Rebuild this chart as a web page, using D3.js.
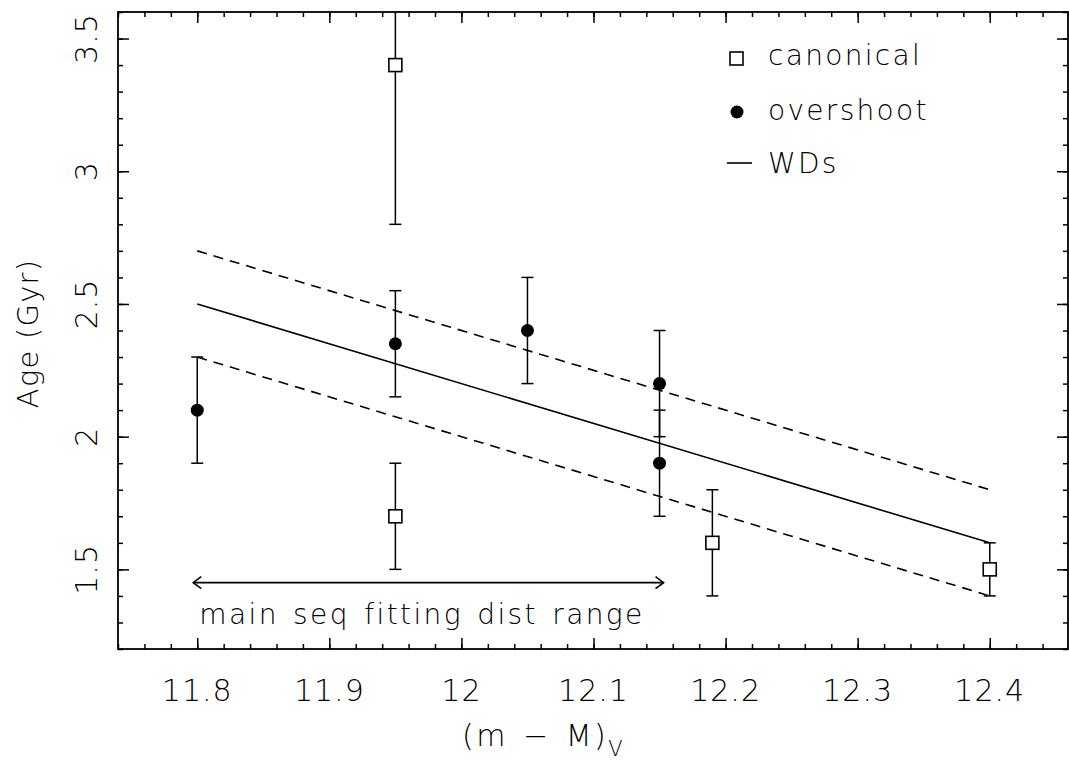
<!DOCTYPE html>
<html>
<head>
<meta charset="utf-8">
<script src="https://cdn.jsdelivr.net/npm/d3@7"></script>
<style>
  body { margin: 0; background: #fff; }
  text { font-family: "DejaVu Sans", sans-serif; font-weight: 200; fill: #000; }
</style>
</head>
<body>
<div id="container"></div>
<script>
let w = 1069;
let h = 762;

// canonical models (open squares)
let canonX = [11.95, 11.95, 12.19, 12.4];
let canonY = [3.4, 1.7, 1.6, 1.5];
let canonErr = [0.6, 0.2, 0.2, 0.1];

// overshoot models (filled circles)
let overX = [11.8, 11.95, 12.05, 12.15, 12.15];
let overY = [2.1, 2.35, 2.4, 2.2, 1.9];
let overErr = [0.2, 0.2, 0.2, 0.2, 0.2];

// white dwarf age relation and its band
let wdX = [11.8, 12.4];
let wdY = [2.5, 1.6];
let wdBand = 0.2;

// distance range arrow
let rangeX = [11.8, 12.15];
let rangeY = 1.45;

let xMajor = [11.8, 11.9, 12, 12.1, 12.2, 12.3, 12.4];
let yMajor = [1.5, 2, 2.5, 3, 3.5];

let xMinor = d3.range(0, 37).map(i => +(11.74 + i * 0.02).toFixed(2));
let yMinor = d3.range(0, 25).map(i => +(1.2 + i * 0.1).toFixed(1));

let pLeft = 118, pRight = 1068, pTop = 12, pBottom = 649;

let x = d3.scaleLinear().domain([11.74, 12.46]).range([pLeft, pRight + 1]);
let y = d3.scaleLinear().domain([1.2, 3.6]).range([pBottom, pTop]);

let viz = d3.select("#container")
  .append("svg")
    .attr("width", w)
    .attr("height", h)
    .style("background-color", "#fff");

viz.append("defs").append("clipPath").attr("id", "plotclip")
  .append("rect")
    .attr("x", pLeft).attr("y", pTop)
    .attr("width", pRight - pLeft).attr("height", pBottom - pTop);

// axes: major and minor ticks pointing inward on all four sides
function ticks(axis, pos, vals, size) {
  let g = viz.append("g")
    .attr("transform", pos)
    .call(axis.tickValues(vals).tickSize(-size).tickSizeOuter(0).tickFormat(""));
  g.select(".domain").remove();
  g.selectAll("line").attr("stroke", "#000").attr("stroke-width", 1.5);
}
ticks(d3.axisBottom(x), `translate(0,${pBottom})`, xMajor, 11);
ticks(d3.axisBottom(x), `translate(0,${pBottom})`, xMinor, 5);
ticks(d3.axisTop(x), `translate(0,${pTop})`, xMajor, 11);
ticks(d3.axisTop(x), `translate(0,${pTop})`, xMinor, 5);
ticks(d3.axisLeft(y), `translate(${pLeft},0)`, yMajor, 11);
ticks(d3.axisLeft(y), `translate(${pLeft},0)`, yMinor, 5);
ticks(d3.axisRight(y), `translate(${pRight},0)`, yMajor, 11);
ticks(d3.axisRight(y), `translate(${pRight},0)`, yMinor, 5);

viz.append("rect")
  .attr("x", pLeft).attr("y", pTop)
  .attr("width", pRight - pLeft).attr("height", pBottom - pTop)
  .attr("fill", "none").attr("stroke", "#000").attr("stroke-width", 1.8);

// tick labels
viz.selectAll(".xlab").data(xMajor).enter()
  .append("text")
    .attr("class", "xlab")
    .attr("x", d => x(d))
    .attr("y", 701)
    .attr("text-anchor", "middle")
    .style("font-size", "30px")
    .style("letter-spacing", "1px")
    .text(d => d3.format("")(d));

viz.selectAll(".ylab").data(yMajor).enter()
  .append("text")
    .attr("class", "ylab")
    .attr("transform", d => `translate(97,${y(d)}) rotate(-90)`)
    .attr("text-anchor", "middle")
    .style("font-size", "30px")
    .style("letter-spacing", "1px")
    .text(d => d3.format("")(d));

// axis titles
viz.append("text")
  .attr("transform", `translate(38,${(pTop + pBottom) / 2 + 3}) rotate(-90)`)
  .attr("text-anchor", "middle")
  .style("font-size", "29px")
  .style("letter-spacing", "1.2px")
  .text("Age (Gyr)");

let xt = viz.append("text")
  .attr("x", 462)
  .attr("y", 746)
  .style("font-size", "30px")
  .style("letter-spacing", "2.5px")
  .style("word-spacing", "3px");
xt.append("tspan").text("(m \u2212 M)");
xt.append("tspan").attr("dx", 0).attr("dy", 10).style("font-size", "21px").style("letter-spacing", "0px").text("V");

let plot = viz.append("g").attr("clip-path", "url(#plotclip)");

// WD relation and dashed band
let line = d3.line().x(d => x(d[0])).y(d => y(d[1]));
let wdPts = wdX.map((d, i) => [d, wdY[i]]);

plot.append("path")
  .attr("d", line(wdPts))
  .attr("fill", "none").attr("stroke", "#000").attr("stroke-width", 1.6);

[wdBand, -wdBand].forEach(off => {
  plot.append("path")
    .attr("d", line(wdPts.map(p => [p[0], p[1] + off])))
    .attr("fill", "none").attr("stroke", "#000").attr("stroke-width", 1.6)
    .attr("stroke-dasharray", "10,7");
});

// error bars
function errorBars(xs, ys, es) {
  let g = plot.append("g");
  xs.forEach((xv, i) => {
    let lo = y(ys[i] - es[i]), hi = y(ys[i] + es[i]), cx = x(xv);
    g.append("line").attr("x1", cx).attr("x2", cx).attr("y1", lo).attr("y2", hi);
    g.append("line").attr("x1", cx - 6).attr("x2", cx + 6).attr("y1", lo).attr("y2", lo);
    g.append("line").attr("x1", cx - 6).attr("x2", cx + 6).attr("y1", hi).attr("y2", hi);
  });
  g.selectAll("line").attr("stroke", "#000").attr("stroke-width", 1.5);
}
errorBars(canonX, canonY, canonErr);
errorBars(overX, overY, overErr);

plot.selectAll(".sq").data(canonX).enter()
  .append("rect")
    .attr("class", "sq")
    .attr("x", (d, i) => x(d) - 6.5)
    .attr("y", (d, i) => y(canonY[i]) - 6.5)
    .attr("width", 13).attr("height", 13)
    .attr("fill", "#fff").attr("stroke", "#000").attr("stroke-width", 1.6);

plot.selectAll(".dot").data(overX).enter()
  .append("circle")
    .attr("class", "dot")
    .attr("cx", d => x(d))
    .attr("cy", (d, i) => y(overY[i]))
    .attr("r", 6.5)
    .attr("fill", "#000");

// distance range arrow
let ay = y(rangeY), ax0 = x(rangeX[0]) - 4, ax1 = x(rangeX[1]) + 4;
let arrow = viz.append("g").attr("stroke", "#000").attr("stroke-width", 1.6).attr("fill", "none");
arrow.append("line").attr("x1", ax0).attr("x2", ax1).attr("y1", ay).attr("y2", ay);
arrow.append("path").attr("d", `M${ax0 + 8},${ay - 6}L${ax0},${ay}L${ax0 + 8},${ay + 6}`);
arrow.append("path").attr("d", `M${ax1 - 8},${ay - 6}L${ax1},${ay}L${ax1 - 8},${ay + 6}`);

viz.append("text")
  .attr("x", x(rangeX[0]) + 2)
  .attr("y", 624)
  .style("font-size", "28px")
  .style("letter-spacing", "2.4px")
  .style("word-spacing", "3px")
  .text("main seq fitting dist range");

// legend
let lg = viz.append("g");
lg.append("rect").attr("x", 730).attr("y", 52).attr("width", 13).attr("height", 13)
  .attr("fill", "#fff").attr("stroke", "#000").attr("stroke-width", 1.6);
lg.append("circle").attr("cx", 737).attr("cy", 112).attr("r", 6.5).attr("fill", "#000");
lg.append("line").attr("x1", 727).attr("x2", 752).attr("y1", 163).attr("y2", 163)
  .attr("stroke", "#000").attr("stroke-width", 1.6);
[["canonical", 65], ["overshoot", 120], ["WDs", 173]].forEach(t => {
  lg.append("text").attr("x", 768).attr("y", t[1])
    .style("font-size", "28px").style("letter-spacing", "2.3px").text(t[0]);
});
</script>
</body>
</html>
